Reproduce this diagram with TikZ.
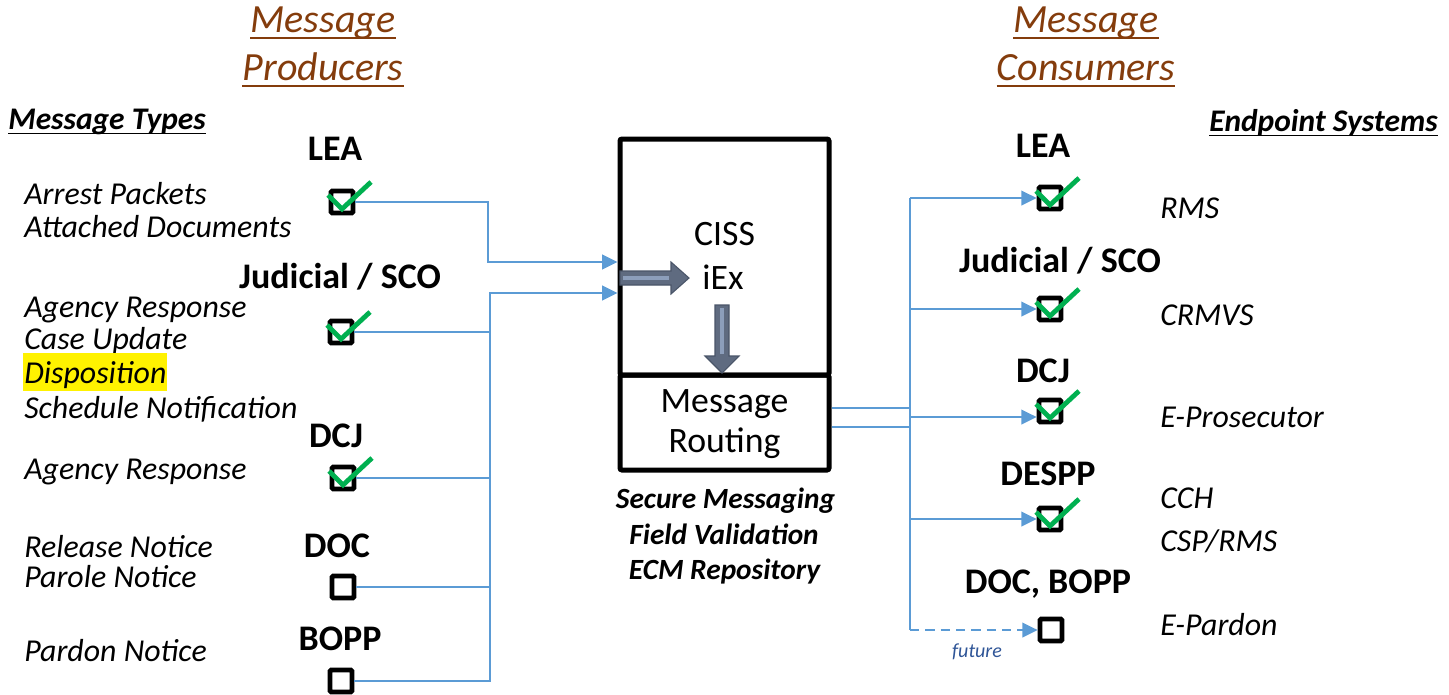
\documentclass[tikz,border=0pt]{standalone}
\usepackage{fontspec}
\setmainfont{Carlito}
\usetikzlibrary{arrows.meta}

\definecolor{feedblue}{HTML}{5B9BD5}
\definecolor{okgreen}{HTML}{00B050}
\definecolor{titlebrown}{HTML}{843C0C}
\definecolor{slate}{HTML}{5F6B80}
\definecolor{slatedark}{HTML}{4A5568}
\definecolor{slatelight}{HTML}{8C9EBB}
\definecolor{noteblue}{HTML}{2F5597}

\tikzset{
  title/.style={inner sep=0pt, text height=.64em, text depth=0pt, text=titlebrown, yshift=-4.5pt,
    font=\fontsize{30}{36}\selectfont\itshape},
  heading/.style={inner sep=0pt, text height=.64em, text depth=0pt, yshift=-4.5pt,
    font=\fontsize{23.6}{28}\selectfont\bfseries\itshape},
  typ/.style={anchor=west, inner sep=0pt, text height=.64em, text depth=0pt, yshift=-4.5pt,
    font=\fontsize{23.9}{28}\selectfont\itshape},
  sysname/.style={inner sep=0pt, text height=.64em, text depth=0pt, yshift=-4.5pt,
    font=\fontsize{27}{30}\selectfont\bfseries},
  corebox/.style={draw, line width=3.75pt, inner sep=0pt, rounded corners=1.5pt},
  coretext/.style={inner sep=0pt, text height=.64em, text depth=0pt, yshift=-4.5pt,
    font=\fontsize{26.8}{30}\selectfont},
  feature/.style={inner sep=0pt, text height=.64em, text depth=0pt, yshift=-4pt,
    font=\fontsize{22}{26}\selectfont\bfseries\itshape},
  tickbox/.style={draw, line width=3.6pt, rounded corners=1pt, minimum size=16.5pt, inner sep=0pt},
  feedline/.style={draw=feedblue, line width=1.5pt},
  feed/.style={feedline, -{Triangle[length=11.5pt,width=11pt]}},
  fatarrow/.style={fill=slate, draw=slatedark, line width=0.8pt},
  okmark/.pic={\draw[okgreen, line width=3.6pt] (-14,-7) -- (0,7) -- (29,-20);}
}

\begin{document}
\begin{tikzpicture}[x=0.75pt, y=-0.75pt]

    \useasboundingbox (0,0) rectangle (1449,694);

    % Column titles
    \node[title] (prodA) at (323,22) {Message};
    \node[title] (prodB) at (323,70) {Producers};
    \node[title] (consA) at (1086,22) {Message};
    \node[title] (consB) at (1086,70) {Consumers};
    \foreach \t in {prodA,prodB,consA,consB}
        \draw[titlebrown, line width=1.5pt] ([yshift=-3.75pt]\t.south west) -- ([yshift=-3.75pt]\t.south east);

    % Side headings
    \node[heading, anchor=west] (types) at (8,119) {Message Types};
    \node[heading, anchor=east] (ends) at (1438,121) {Endpoint Systems};
    \foreach \t in {types,ends}
        \draw[line width=1.2pt] ([yshift=-3pt]\t.south west) -- ([yshift=-3pt]\t.south east);

    % Message types of each producer
    \node[typ] (tArrest) at (24,194) {Arrest Packets};
    \node[typ] (tAttach) at (24,227) {Attached Documents};
    \node[typ] (tAgency) at (24,307) {Agency Response};
    \node[typ] (tCase) at (24,339) {Case Update};
    % Disposition is highlighted
    \fill[yellow] (23,353) rectangle (167,391);
    \node[typ] (tDispo) at (24,373) {Disposition};
    \node[typ] (tSched) at (24,408) {Schedule Notification};
    \node[typ] (tAgencyB) at (24,469) {Agency Response};
    \node[typ] (tRelease) at (24,547) {Release Notice};
    \node[typ] (tParole) at (24,577) {Parole Notice};
    \node[typ] (tPardon) at (24,651) {Pardon Notice};

    % Producers
    \node[sysname] (leaLbl) at (335,150) {LEA};
    \node[sysname] (jusLbl) at (340,278) {Judicial / SCO};
    \node[sysname] (dcjLbl) at (336,437) {DCJ};
    \node[sysname] (docLbl) at (337,547) {DOC};
    \node[sysname] (bopLbl) at (340,640) {BOPP};

    \node[tickbox] (leaL) at (342,202) {};
    \node[tickbox] (jusL) at (341,332) {};
    \node[tickbox] (dcjL) at (343,478) {};
    \node[tickbox] (docL) at (343,587) {};
    \node[tickbox] (bopL) at (341,681) {};

    % CISS iEx hub
    \node[corebox, minimum width=156.75pt, minimum height=177pt] (ciss) at (724.5,257) {};
    \node[corebox, minimum width=156.75pt, minimum height=71.25pt] (rout) at (724.5,422.5) {};
    \node[coretext] (cissA) at (724.5,235) {CISS};
    \node[coretext] (cissB) at (723,279) {iEx};
    \node[coretext] (routA) at (724.5,402) {Message};
    \node[coretext] (routB) at (724.5,442) {Routing};

    % Inner flow arrows
    \filldraw[fatarrow] (620,271) -- (671,271) -- (671,262) -- (689,278) -- (671,294) -- (671,285) -- (620,285) -- cycle;
    \draw[slatelight, line width=2.5pt] (623,278) -- (669,278);
    \filldraw[fatarrow] (715,305) -- (729,305) -- (729,356) -- (739,356) -- (722,373) -- (705,356) -- (715,356) -- cycle;
    \draw[slatelight, line width=2.5pt] (722,308) -- (722,354);

    \node[feature] (fSecure) at (725.5,499) {Secure Messaging};
    \node[feature] (fField) at (724,535) {Field Validation};
    \node[feature] (fEcm) at (724.5,570) {ECM Repository};

    % Producer connectors into the hub
    \draw[feed] (leaL.east) -| (488,262) -- (ciss.west |- 0,262);
    \draw[feed] (bopL.east) -| (490,293) -- (ciss.west |- 0,293);
    \foreach \b in {jusL,dcjL,docL}
        \draw[feedline] (\b.east) -- (\b.east -| 490,0);

    % Consumers
    \node[sysname] (leaRLbl) at (1043,147) {LEA};
    \node[sysname] (jusRLbl) at (1060,262) {Judicial / SCO};
    \node[sysname] (dcjRLbl) at (1043,372) {DCJ};
    \node[sysname] (despRLbl) at (1048,475) {DESPP};
    \node[sysname] (docRLbl) at (1048,583) {DOC, BOPP};

    \node[tickbox] (leaR) at (1050,198) {};
    \node[tickbox] (jusR) at (1050,309) {};
    \node[tickbox] (dcjR) at (1050,411) {};
    \node[tickbox] (despR) at (1050,519) {};
    \node[tickbox] (docR) at (1051,630) {};

    % Endpoint systems
    \node[typ] (sRms) at (1160,208) {RMS};
    \node[typ] (sCrmvs) at (1160,315) {CRMVS};
    \node[typ] (sProsec) at (1160,417) {E-Prosecutor};
    \node[typ] (sCch) at (1160,498) {CCH};
    \node[typ] (sCsp) at (1160,541) {CSP/RMS};
    \node[typ] (sPardon) at (1160,625) {E-Pardon};

    % Routing out to the consumers
    \draw[feedline] (rout.east |- 0,408) -- (910,408);
    \draw[feedline] (rout.east |- 0,427) -- (910,427);
    \draw[feedline] (leaR.west -| 910,0) -- (docR.west -| 910,0);
    \foreach \b in {leaR,jusR,despR}
        \draw[feed] (\b.west -| 910,0) -- (\b.west);
    \draw[feed] (910,417) -- (dcjR.west |- 0,417);
    \draw[feed, dash pattern=on 7pt off 4.5pt] (docR.west -| 910,0) -- (docR.west);
    \node[inner sep=0pt, text=noteblue, font=\fontsize{15}{18}\selectfont\itshape] (future) at (977,652) {future};

    % Green ticks on the live systems
    \foreach \b in {leaL,jusL,dcjL,leaR,jusR,dcjR,despR}
        \pic at (\b) {okmark};

\end{tikzpicture}
\end{document}
